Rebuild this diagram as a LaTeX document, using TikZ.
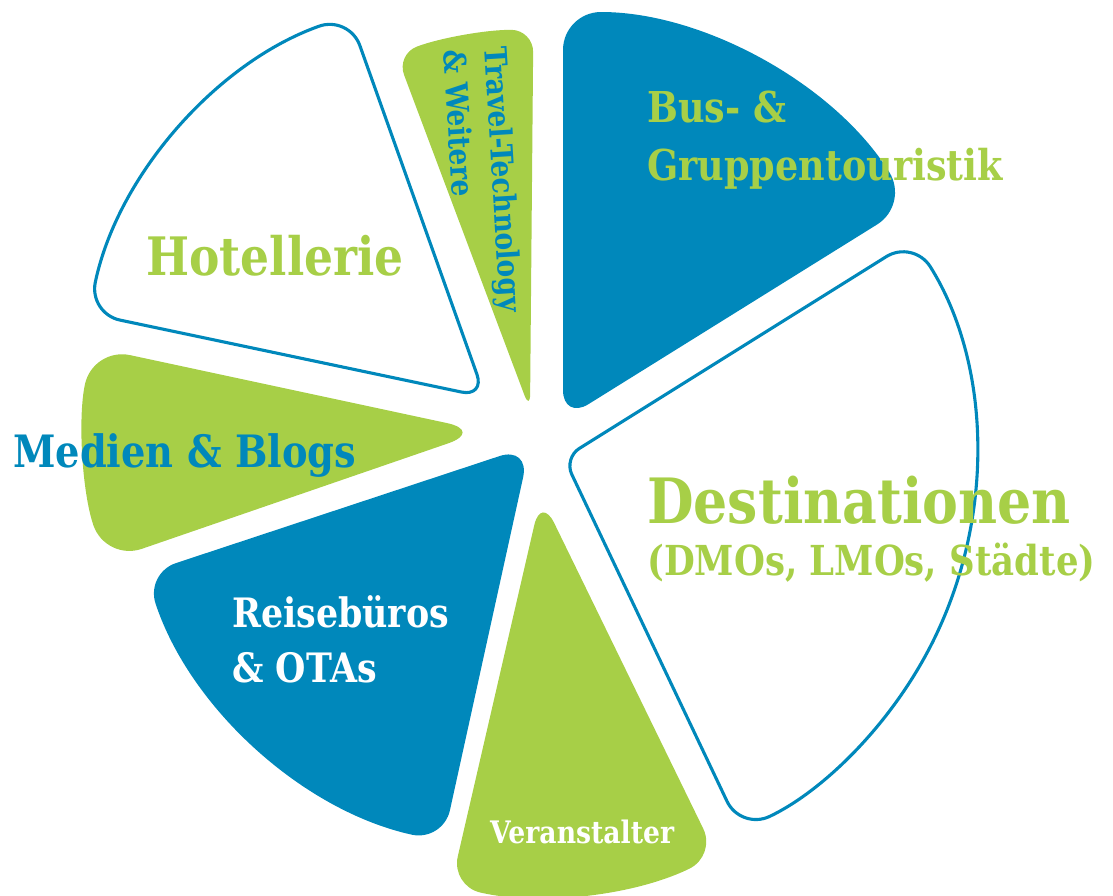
\documentclass[tikz,border=0pt]{standalone}
\usepackage{fontspec}
\newfontfamily\slab[FakeStretch=0.86]{DejaVu Serif Bold}
\definecolor{pblue}{RGB}{0,136,187}
\definecolor{pgreen}{RGB}{167,207,71}
\tikzset{
  lbl/.style={inner sep=0pt, anchor=base west},
  outl/.style={fill=white, draw=pblue, line width=3.1pt},
}
\newcommand{\fsz}[1]{\slab\fontsize{#1}{#1}\selectfont}
\begin{document}
\begin{tikzpicture}[x=1pt,y=-1pt]
\useasboundingbox (0,0) rectangle (1113,895);
% Hotellerie
\begin{scope}[shift={(485,397)}]
\filldraw[outl] (191.9:200) [rounded corners=32pt] -- (191.9:405)
  arc[start angle=191.9, end angle=250.4, radius=405] [rounded corners=24pt] -- (0,0) [rounded corners=14pt] -- cycle;
\end{scope}
% Travel-Technology
\begin{scope}[shift={(530,410)}]
\fill[pgreen] (249.4:200) [rounded corners=22pt] -- (249.4:380)
  arc[start angle=249.4, end angle=270.5, radius=380] [rounded corners=16pt] -- (0,0) [rounded corners=8pt] -- cycle;
\end{scope}
% Bus
\begin{scope}[shift={(563,420)}]
\fill[pblue] (270:200) [rounded corners=38pt] -- (270:408)
  arc[start angle=270, end angle=328.1, radius=408] [rounded corners=30pt] -- (0,0) [rounded corners=25pt] -- cycle;
\end{scope}
% Destinationen
\begin{scope}[shift={(564,458)}]
\filldraw[outl] (-32:200) [rounded corners=32pt] -- (-32:412)
  arc[start angle=-32, end angle=64.6, radius=412] [rounded corners=18pt] -- (0,0) [rounded corners=25pt] -- cycle;
\end{scope}
% Veranstalter
\begin{scope}[shift={(541,496)}]
\fill[pgreen] (64:200) [rounded corners=30pt] -- (64:400)
  arc[start angle=64, end angle=103, radius=400] [rounded corners=30pt] -- (0,0) [rounded corners=18pt] -- cycle;
\end{scope}
% Reisebueros
\begin{scope}[shift={(530,446)}]
\fill[pblue] (102.4:200) [rounded corners=32pt] -- (102.4:405)
  arc[start angle=102.4, end angle=161.7, radius=405] [rounded corners=32pt] -- (0,0) [rounded corners=15pt] -- cycle;
\end{scope}
% Medien
\begin{scope}[shift={(484,431)}]
\fill[pgreen] (161:200) [rounded corners=38pt] -- (161:400)
  arc[start angle=161, end angle=192.1, radius=400] [rounded corners=38pt] -- (0,0) [rounded corners=16pt] -- cycle;
\end{scope}
% Labels
\node[lbl, text=pgreen, font=\fsz{53}] (hotel) at (146,275) {Hotellerie};
\node[inner sep=0pt, anchor=north west, align=left, text=pblue,
      font={\slab\fontsize{30.8}{41}\selectfont}, rotate=-86.5] (trav) at (508,46)
      {Travel-Technology\\\& Weitere};
\node[lbl, text=pgreen, font=\fsz{42.5}] (bus1) at (647,122) {Bus- \&};
\node[lbl, text=pgreen, font=\fsz{42.5}] (bus2) at (647,180) {Gruppentouristik};
\node[lbl, text=pgreen, font=\fsz{62.5}] (dest1) at (647,523) {Destinationen};
\node[lbl, text=pgreen, font=\fsz{41.3}] (dest2) at (647,575) {(DMOs, LMOs, Städte)};
\node[lbl, text=pblue, font=\fsz{44.6}] (med) at (13,467) {Medien \& Blogs};
\node[lbl, text=white, font=\fsz{40.5}] (reis1) at (232,627) {Reisebüros};
\node[lbl, text=white, font=\fsz{40.5}] (reis2) at (232,682) {\& OTAs};
\node[lbl, text=white, font=\fsz{31}] (vera) at (490,843) {Veranstalter};
\end{tikzpicture}
\end{document}
